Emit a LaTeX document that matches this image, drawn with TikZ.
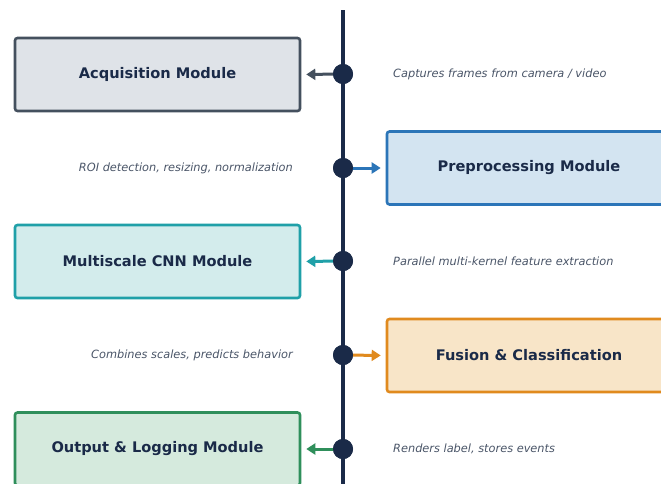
\documentclass[tikz,border=0pt]{standalone}
\usepackage{fontspec}
\setmainfont{DejaVu Sans}
\usetikzlibrary{arrows.meta}
\definecolor{navy}{HTML}{1A2A48}
\definecolor{labgray}{HTML}{4A5568}
\definecolor{acqD}{HTML}{44505E}\definecolor{acqF}{HTML}{DFE3E8}
\definecolor{preD}{HTML}{2B75B8}\definecolor{preF}{HTML}{D3E4F1}
\definecolor{mulD}{HTML}{1FA0A8}\definecolor{mulF}{HTML}{D3ECEC}
\definecolor{fusD}{HTML}{E08A1E}\definecolor{fusF}{HTML}{F8E5C8}
\definecolor{outD}{HTML}{2F8F5B}\definecolor{outF}{HTML}{D5EADD}
\tikzset{
  modbox/.style={draw, line width=2.6pt, rounded corners=2.5pt, minimum width=285pt, minimum height=73pt, inner sep=0pt, font=\fontsize{14.6}{17}\selectfont\bfseries, text=navy},
  dotnode/.style={circle, fill=navy, minimum size=20pt, inner sep=0pt},
  desc/.style={font=\fontsize{11.35}{14}\selectfont\itshape, text=labgray, inner sep=0pt},
  conn/.style={line width=3pt, -{Triangle[length=9pt,width=11pt]}, shorten >=5pt},
}
\begin{document}
\begin{tikzpicture}[x=1pt,y=-1pt]
\clip (0,0) rectangle (661,483);
\fill[white] (0,0) rectangle (661,483);
\coordinate (top) at (343,10);
\coordinate (bot) at (343,490);
\draw[navy, line width=4pt] (top) -- (bot);
% boxes
\node[modbox, draw=acqD, fill=acqF] (acq) at (157.5,74.5) {Acquisition Module};
\node[modbox, draw=preD, fill=preF, minimum width=300pt] (pre) at (537,168) {\hspace*{-16pt}Preprocessing Module};
\node[modbox, draw=mulD, fill=mulF] (mul) at (157.5,261.5) {Multiscale CNN Module};
\node[modbox, draw=fusD, fill=fusF, minimum width=300pt] (fus) at (537,355.5) {\hspace*{-16pt}Fusion \& Classification};
\node[modbox, draw=outD, fill=outF] (out) at (157.5,449) {Output \& Logging Module};
% dots
\node[dotnode] (d1) at (343,74) {};
\node[dotnode] (d2) at (343,168) {};
\node[dotnode] (d3) at (343,261) {};
\node[dotnode] (d4) at (343,355) {};
\node[dotnode] (d5) at (343,449) {};
% connectors
\draw[conn, acqD] (d1.center) -- (acq.east);
\draw[conn, preD] (d2.center) -- (pre.west);
\draw[conn, mulD] (d3.center) -- (mul.east);
\draw[conn, fusD] (d4.center) -- (fus.west);
\draw[conn, outD] (d5.center) -- (out.east);
\node[dotnode] at (d1) {};
\node[dotnode] at (d2) {};
\node[dotnode] at (d3) {};
\node[dotnode] at (d4) {};
\node[dotnode] at (d5) {};
% descriptions
\node[desc, anchor=west] (t1) at (393,74) {Captures frames from camera / video};
\node[desc, anchor=east] (t2) at (293,168) {ROI detection, resizing, normalization};
\node[desc, anchor=west] (t3) at (393,261) {Parallel multi-kernel feature extraction};
\node[desc, anchor=east] (t4) at (293,355) {Combines scales, predicts behavior};
\node[desc, anchor=west] (t5) at (393,449) {Renders label, stores events};
\end{tikzpicture}
\end{document}
